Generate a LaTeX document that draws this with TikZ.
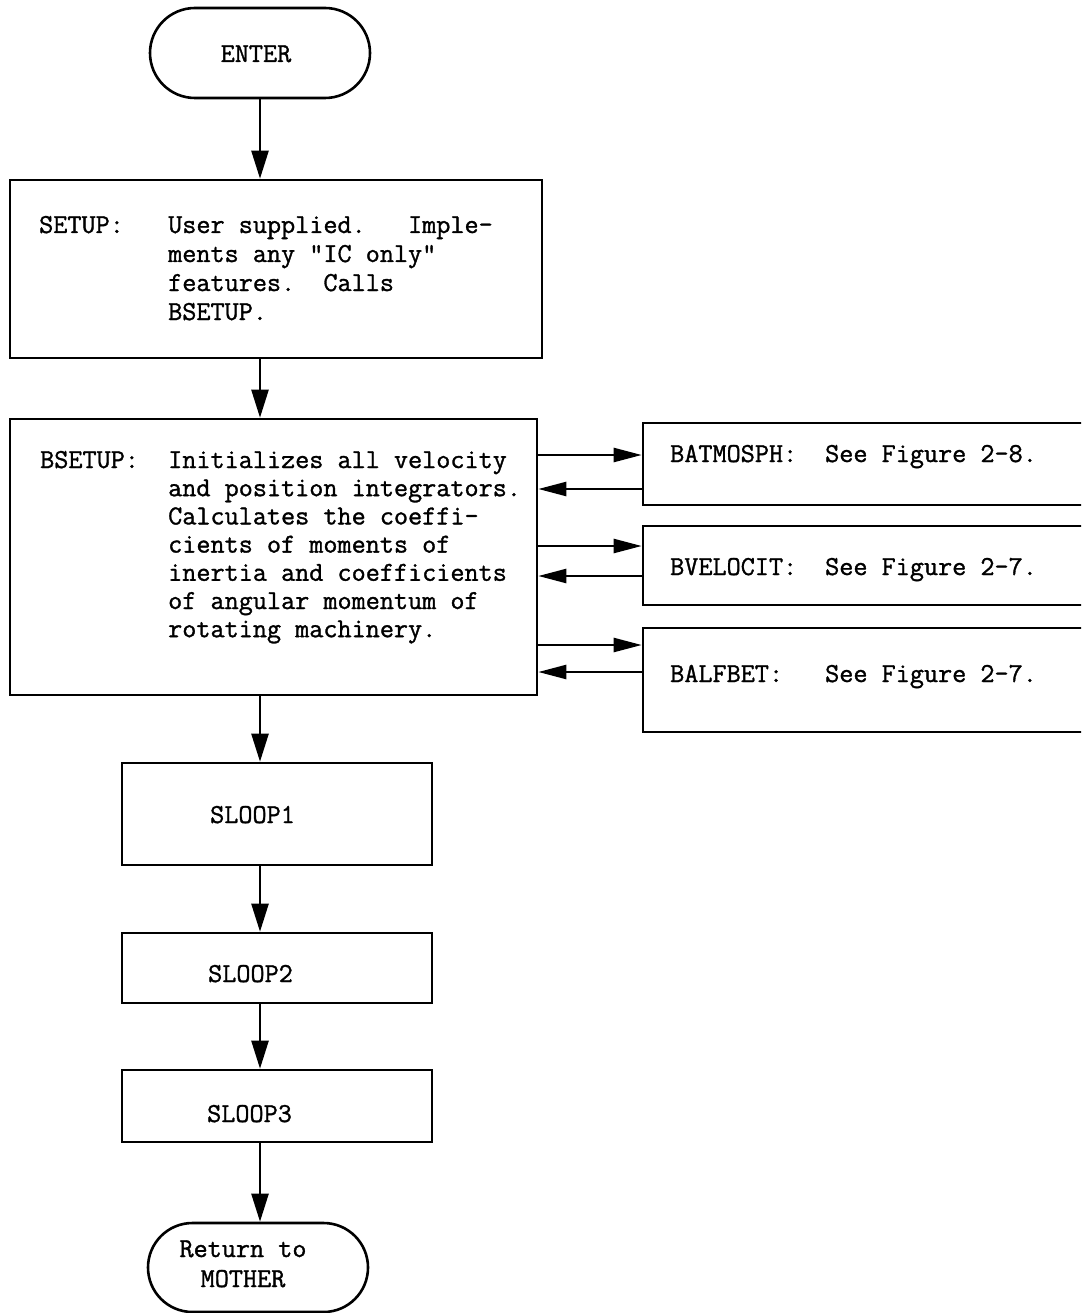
\documentclass[tikz,border=0pt]{standalone}
\usepackage{fontspec}
\newfontfamily\twfont{Latin Modern Mono}[FakeBold=1.2]
\usetikzlibrary{arrows.meta,shapes.misc}
\begin{document}
\begin{tikzpicture}[x=1pt,y=-1pt,
  boxsh/.style={draw, line width=2.6pt, rectangle, inner sep=0pt},
  term/.style={draw, line width=2.6pt, rounded rectangle, inner sep=0pt},
  txt/.style={inner sep=0pt, font=\twfont\fontsize{27.4}{28.5}\selectfont\frenchspacing},
  arr/.style={line width=2.4pt, -{Triangle[length=28pt,width=17pt]}},
  sarr/.style={line width=2.4pt, -{Triangle[length=28pt,width=14pt]}}]
\clip (0,0) rectangle (1081,1313);
\fill[white] (0,0) rectangle (1081,1313);

% shapes
\node[term, minimum width=220pt, minimum height=90pt] (enter) at (260,53) {};
\node[boxsh, minimum width=532pt, minimum height=178pt] (setup) at (276,269) {};
\node[boxsh, minimum width=527pt, minimum height=276pt] (bsetup) at (273.5,557) {};
\node[boxsh, minimum width=457pt, minimum height=82pt] (bat) at (871.5,464) {};
\node[boxsh, minimum width=457pt, minimum height=79pt] (bvel) at (871.5,565.5) {};
\node[boxsh, minimum width=457pt, minimum height=104pt] (balf) at (871.5,680) {};
\node[boxsh, minimum width=310pt, minimum height=102pt] (sl1) at (277,814) {};
\node[boxsh, minimum width=310pt, minimum height=70pt] (sl2) at (277,968) {};
\node[boxsh, minimum width=310pt, minimum height=72pt] (sl3) at (277,1106) {};
\node[term, minimum width=220pt, minimum height=89pt] (ret) at (258,1267.5) {};

% texts
\node[txt, anchor=base] (tenter) at (256,62) {ENTER};
\node[txt, anchor=base west] (tsetup) at (39,233) {SETUP:};
\foreach \t [count=\i] in {User supplied.~~~Imple-, ments any "IC only", features.~~Calls, BSETUP.}
  \node[txt, anchor=base west] (ts\i) at (168,{233+(\i-1)*29}) {\t};
\node[txt, anchor=base west] (tbsetup) at (40,468) {BSETUP:};
\foreach \t [count=\i] in {Initializes all velocity, and position integrators., Calculates the coeffi-, cients of moments of, inertia and coefficients, of angular momentum of, rotating machinery.}
  \node[txt, anchor=base west] (tb\i) at (168,{468+(\i-1)*28.2}) {\t};
\node[txt, anchor=base west] (tbat) at (670,462) {BATMOSPH:};
\node[txt, anchor=base west] (tbatr) at (825,462) {See Figure 2-8.};
\node[txt, anchor=base west] (tvel) at (670,575) {BVELOCIT:};
\node[txt, anchor=base west] (tvelr) at (825,575) {See Figure 2-7.};
\node[txt, anchor=base west] (talf) at (670,682) {BALFBET:};
\node[txt, anchor=base west] (talfr) at (825,682) {See Figure 2-7.};
\node[txt, anchor=base west] (tsl1) at (210,823) {SLOOP1};
\node[txt, anchor=base west] (tsl2) at (208,982) {SLOOP2};
\node[txt, anchor=base west] (tsl3) at (207,1122) {SLOOP3};
\node[txt, anchor=base] (tret1) at (243,1257) {Return to};
\node[txt, anchor=base] (tret2) at (243,1287) {MOTHER};

% vertical connectors
\draw[arr] (enter.south) -- (enter.south |- setup.north);
\draw[arr] (enter.south |- setup.south) -- (enter.south |- bsetup.north);
\draw[arr] (enter.south |- bsetup.south) -- (enter.south |- sl1.north);
\draw[arr] (enter.south |- sl1.south) -- (enter.south |- sl2.north);
\draw[arr] (enter.south |- sl2.south) -- (enter.south |- sl3.north);
\draw[arr] (enter.south |- sl3.south) -- (enter.south |- ret.north);

% side connectors
\draw[sarr] (bsetup.east |- 0,455) -- (bat.west |- 0,455);
\draw[sarr] (bat.west |- 0,489) -- (bsetup.east |- 0,489);
\draw[sarr] (bsetup.east |- 0,546) -- (bvel.west |- 0,546);
\draw[sarr] (bvel.west |- 0,576) -- (bsetup.east |- 0,576);
\draw[sarr] (bsetup.east |- 0,645) -- (balf.west |- 0,645);
\draw[sarr] (balf.west |- 0,672) -- (bsetup.east |- 0,672);
\end{tikzpicture}
\end{document}
